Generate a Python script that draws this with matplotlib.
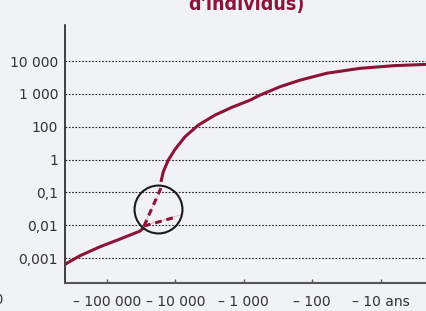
import numpy as np
import matplotlib
matplotlib.use('Agg')
from matplotlib import pyplot as plt

# population levels shown on the y axis (evenly spaced, 10 is skipped)
y_labels = ['0,001', '0,01', '0,1', '1', '100', '1 000', '10 000']
y_levels = [0, 1, 2, 3, 4, 5, 6]

# years before present on the x axis (log scale)
x_ticks = [100000, 10000, 1000, 100, 10]
x_labels = ['\u2013 100 000', '\u2013 10 000', '\u2013 1 000', '\u2013 100', '\u2013 10 ans']

# curve: years ago / level
low_years = [407000, 246000, 125600, 64100, 32700, 28600]
low_level = [-0.19, 0.07, 0.344, 0.579, 0.822, 0.94]

dash_low_years = [28600, 9440]
dash_low_level = [0.975, 1.26]
dash_up_years = [28600, 16200]
dash_up_level = [0.975, 2.13]
pink_low_years = [29500, 7720]
pink_low_level = [0.975, 1.34]
pink_up_years = [29500, 15200]
pink_up_level = [0.975, 2.20]

up_years = [16200, 14960, 12650, 10100, 7210, 4610, 2630, 1500, 811, 579, 295, 151,
            61.6, 20.1, 6.56, 2.19, 1.5]
up_level = [2.32, 2.63, 2.985, 3.31, 3.695, 4.05, 4.356, 4.59, 4.81, 4.965, 5.22, 5.42,
            5.63, 5.78, 5.86, 5.90, 5.91]

circle_years = 18070
circle_level = 1.49

bg = '#f1f2f5'
red = '#8a1538'

fig = plt.figure(figsize=(4.26, 3.11), dpi=100, facecolor=bg)
ax = fig.add_axes([65/426, 28/311, 1 - 65/426, (283-25)/311])
ax.set_facecolor(bg)

ax.set_xscale('log')
ax.set_xlim(407000, 2.19)
ax.set_ylim(-0.76, 7.10)

for lv in y_levels:
    ax.axhline(lv, color='#222222', lw=0.8, ls=(0, (1.5, 1.5)), zorder=1)

ax.plot(pink_low_years, pink_low_level, color='#e9b8c4', lw=0.7, zorder=2)
ax.plot(pink_up_years, pink_up_level, color='#e9b8c4', lw=0.7, zorder=2)
ax.plot(low_years, low_level, color=red, lw=2.2, solid_capstyle='butt',
        solid_joinstyle='round', zorder=3)
ax.plot(up_years, up_level, color=red, lw=2.2, solid_capstyle='butt',
        solid_joinstyle='round', zorder=3)
ax.plot(dash_low_years, dash_low_level, color=red, lw=2.2, ls=(0, (2.2, 1.6)), zorder=3)
ax.plot(dash_up_years, dash_up_level, color=red, lw=2.2, ls=(0, (2.2, 1.6)), zorder=3)
ax.plot([circle_years], [circle_level], marker='o', ms=34.5, mfc='none', mec='#1a1a1a',
        mew=1.5, zorder=4)

ax.set_yticks(y_levels)
ax.set_yticklabels(y_labels)
ax.set_xticks(x_ticks)
ax.set_xticklabels(x_labels)
ax.xaxis.set_minor_locator(matplotlib.ticker.NullLocator())
ax.tick_params(axis='y', length=0, pad=5, labelsize=10, labelcolor='#333333')
ax.tick_params(axis='x', direction='in', length=3, width=1, color='#555555', pad=9,
               labelsize=10, labelcolor='#333333')

for s in ['top', 'right']:
    ax.spines[s].set_visible(False)
ax.spines['left'].set_color('#222222')
ax.spines['left'].set_linewidth(1.2)
ax.spines['bottom'].set_color('#555555')
ax.spines['bottom'].set_linewidth(1.5)

# title and left label are cut off by the frame in the original
fig.text(246/426, 1 - 10/311, "d'individus)", ha='center', va='baseline', fontsize=14,
         fontweight='bold', color=red, fontstretch='condensed')
fig.text(3/426, 1 - 304/311, '\u2013 1 000 000', ha='right', va='baseline', fontsize=10,
         color='#333333')

fig.savefig('out.png', dpi=100, facecolor=bg)
